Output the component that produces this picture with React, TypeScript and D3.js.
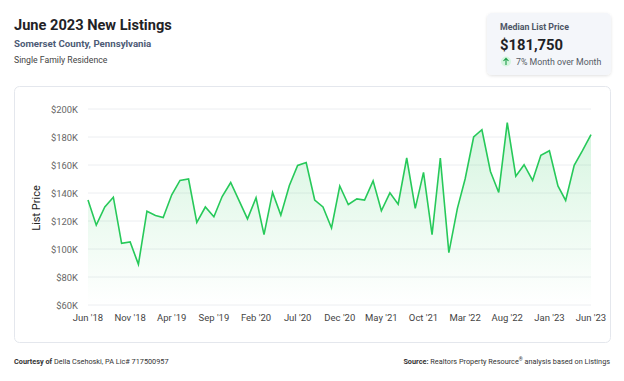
import React, { useEffect, useRef } from "react";
import * as d3 from "d3";

const months: string[] = (() => {
  const out: string[] = [];
  for (let i = 0; i <= 60; i++) {
    const d = new Date(2018, 5 + i, 1);
    out.push(`${d.getFullYear()}-${String(d.getMonth() + 1).padStart(2, "0")}`);
  }
  return out;
})();

const prices: number[] = [
  135, 117, 130, 137, 104, 105, 89, 127, 124, 122.5,
  138.7, 149, 150, 119, 130, 123, 137.5, 147.5, 134.7, 121.5,
  136.6, 110.3, 140.4, 124.2, 145.4, 159.7, 161.8, 135, 130, 115,
  145, 131.8, 135.8, 135, 148.7, 127.3, 140.1, 132, 165, 129,
  154.7, 110.3, 165, 97.4, 129, 150, 180, 185.2, 155.4, 140.4,
  190.2, 152, 160.2, 149, 166.9, 170.2, 145, 134.7, 159.7, 170.2, 181.75,
].map((v) => v * 1000);

const yTicks: number[] = [60000, 80000, 100000, 120000, 140000, 160000, 180000, 200000];
const xTickIdx: number[] = [0, 5, 10, 15, 20, 25, 30, 35, 40, 45, 50, 55, 60];

const FONT = "Roboto, 'Noto Sans', sans-serif";

export default function App() {
  const ref = useRef<SVGSVGElement>(null);

  useEffect(() => {
    const svg = d3.select(ref.current);
    svg.selectAll("*").remove();
    const W = 624, H = 381;
    const parse = d3.timeParse("%Y-%m");
    const dates = months.map((m) => parse(m) as Date);

    const x = d3.scaleTime().domain([dates[0], dates[dates.length - 1]]).range([88, 591]);
    const y = d3.scaleLinear().domain([60000, 200000]).range([305, 109]);

    svg.append("rect").attr("width", W).attr("height", H).attr("fill", "#fff");

    // Header
    svg.append("text").attr("x", 14).attr("y", 30).text("June 2023 New Listings")
      .attr("font-family", FONT).attr("font-weight", 700).attr("font-size", 14.6).attr("fill", "#1f2226");
    svg.append("text").attr("x", 14).attr("y", 47).text("Somerset County, Pennsylvania")
      .attr("font-family", FONT).attr("font-weight", 700).attr("font-size", 9.7).attr("fill", "#4d5b75");
    svg.append("text").attr("x", 14).attr("y", 63).text("Single Family Residence")
      .attr("font-family", FONT).attr("font-size", 8.7).attr("fill", "#444");

    // Price box
    const defs = svg.append("defs");
    const f = defs.append("filter").attr("id", "sh").attr("x", "-20%").attr("y", "-20%").attr("width", "140%").attr("height", "150%");
    f.append("feDropShadow").attr("dx", 0).attr("dy", 1).attr("stdDeviation", 1.5).attr("flood-color", "#000").attr("flood-opacity", 0.12);
    svg.append("rect").attr("x", 487).attr("y", 13).attr("width", 124).attr("height", 62).attr("rx", 5)
      .attr("fill", "#f4f6fa").attr("filter", "url(#sh)");
    svg.append("text").attr("x", 500).attr("y", 30).text("Median List Price")
      .attr("font-family", FONT).attr("font-weight", 700).attr("font-size", 8.8).attr("fill", "#4d5565");
    svg.append("text").attr("x", 500).attr("y", 50).text("$181,750")
      .attr("font-family", FONT).attr("font-weight", 700).attr("font-size", 14.8).attr("fill", "#1f2226");
    svg.append("circle").attr("cx", 506).attr("cy", 61.5).attr("r", 5).attr("fill", "#d5f5df");
    svg.append("path").attr("d", "M506,65 L506,58.5 M503.5,61 L506,58.3 L508.5,61")
      .attr("stroke", "#1c9b48").attr("stroke-width", 1.1).attr("fill", "none");
    svg.append("text").attr("x", 516).attr("y", 65).text("7% Month over Month")
      .attr("font-family", FONT).attr("font-size", 8.8).attr("fill", "#555b66");

    // Card
    svg.append("rect").attr("x", 14.5).attr("y", 86.5).attr("width", 596).attr("height", 256).attr("rx", 5)
      .attr("fill", "#fff").attr("stroke", "#e4e7ed");

    // Gridlines + y labels
    yTicks.forEach((t) => {
      svg.append("line").attr("x1", 88).attr("x2", 591).attr("y1", y(t)).attr("y2", y(t))
        .attr("stroke", "#eceef1").attr("stroke-width", 1);
      svg.append("text").attr("x", 78).attr("y", y(t) + 3.5).attr("text-anchor", "end")
        .text("$" + d3.format(",")(t / 1000) + "K")
        .attr("font-family", FONT).attr("font-size", 9.4).attr("fill", "#666");
    });

    svg.append("text").attr("transform", "translate(39.5,208) rotate(-90)").attr("text-anchor", "middle")
      .text("List Price").attr("font-family", FONT).attr("font-weight", 400).attr("font-size", 11).attr("fill", "#222");

    // x labels
    const fmt = d3.timeFormat("%b '%y");
    xTickIdx.forEach((i) => {
      svg.append("text").attr("x", x(dates[i])).attr("y", 321).attr("text-anchor", "middle")
        .text(fmt(dates[i])).attr("font-family", FONT).attr("font-size", 9.5).attr("fill", "#444");
    });

    // Area gradient
    const g = defs.append("linearGradient").attr("id", "ag").attr("x1", 0).attr("x2", 0).attr("y1", 0).attr("y2", 1);
    g.append("stop").attr("offset", "0%").attr("stop-color", "#2ecc5f").attr("stop-opacity", 0.2);
    g.append("stop").attr("offset", "100%").attr("stop-color", "#2ecc5f").attr("stop-opacity", 0.0);

    const area = d3.area<number>().x((_, i) => x(dates[i])).y0(y(60000)).y1((d) => y(d));
    const line = d3.line<number>().x((_, i) => x(dates[i])).y((d) => y(d));

    svg.append("path").datum(prices).attr("d", area as any).attr("fill", "url(#ag)");
    svg.append("path").datum(prices).attr("d", line as any).attr("fill", "none")
      .attr("stroke", "#27c95a").attr("stroke-width", 1.6).attr("stroke-linejoin", "miter");

    // Footer
    const ft = svg.append("text").attr("x", 14).attr("y", 364).attr("font-family", FONT).attr("font-size", 7.3).attr("fill", "#333");
    ft.append("tspan").attr("font-weight", 700).text("Courtesy of ");
    ft.append("tspan").text("Della Csehoski, PA Lic# 717500957");
    const fr = svg.append("text").attr("x", 610).attr("y", 364).attr("text-anchor", "end").attr("font-family", FONT).attr("font-size", 7.3).attr("fill", "#333");
    fr.append("tspan").attr("font-weight", 700).text("Source: ");
    fr.append("tspan").text("Realtors Property Resource");
    fr.append("tspan").attr("font-size", 5).attr("dy", -3).text("®");
    fr.append("tspan").attr("dy", 3).text(" analysis based on Listings");
  }, []);

  return (
    <div style={{ position: "absolute", left: 0, top: 0 }}>
      <svg ref={ref} width={624} height={381} style={{ display: "block" }} />
    </div>
  );
}
